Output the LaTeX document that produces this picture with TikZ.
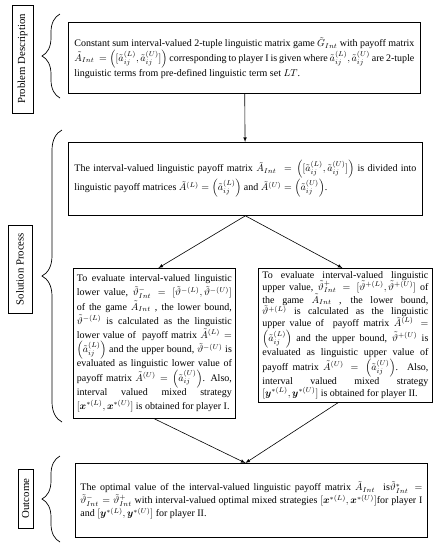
\documentclass[tikz,border=0pt]{standalone}
\usepackage{amsmath}
\usepackage{amssymb}
\usepackage{fontspec}
\setmainfont{Liberation Serif}
\usetikzlibrary{decorations.pathreplacing}
\hyphenpenalty=10000
\exhyphenpenalty=10000
\tolerance=10000
\hbadness=10000
\lineskiplimit=-100pt

\tikzset{
  stagebox/.style={draw, line width=0.8pt, anchor=north west, align=justify,
    inner ysep=3pt, font=\fontsize{10}{13}\selectfont},
  phasebox/.style={draw, line width=0.6pt, rotate=90, inner sep=1pt,
    font=\fontsize{10.8}{12}\selectfont},
  phasebrace/.style={decorate, decoration={brace, amplitude=18pt}, line width=0.7pt},
}

\begin{document}
\begin{tikzpicture}[x=1pt, y=-1pt, >=latex]
    \useasboundingbox (0,0) rectangle (434,550);
    % Phase labels on the left
    \node [phasebox, minimum width=108, minimum height=21] (lblprob) at (22.5,59) {Problem Description};
    \node [phasebox, minimum width=88, minimum height=24] (lblsol) at (20,269) {Solution Process};
    \node [phasebox, minimum width=59, minimum height=15] (lblout) at (25.5,498.5) {Outcome};
    % Braces
    \draw [phasebrace] (60,98) -- (60,14);
    \draw [phasebrace, decoration={amplitude=20pt}] (62,422) -- (62,130);
    \draw [phasebrace] (60,542) -- (60,456);
    % Problem description
    \node [stagebox, inner xsep=6pt, text width=340pt, minimum height=71] (prob) at (68,22)
      {Constant sum interval-valued 2-tuple linguistic matrix game $\tilde{G}_{Int}$ with payoff matrix\linebreak
       $\tilde{A}_{Int}\ = \left([\tilde{a}_{ij}^{(L)},\tilde{a}_{ij}^{(U)}]\right)$ corresponding to player I is given where
       $\tilde{a}_{ij}^{(L)},\tilde{a}_{ij}^{(U)}$ are 2-tuple\linebreak linguistic terms from pre-defined linguistic term set $LT$.\par\vspace*{-11pt}};
    % Splitting the payoff matrix
    \node [stagebox, inner xsep=6pt, text width=342pt, minimum height=73, font=\fontsize{10}{15}\selectfont] (div) at (68,142)
      {The interval-valued linguistic payoff matrix $\tilde{A}_{Int}\ = \left([\tilde{a}_{ij}^{(L)},\tilde{a}_{ij}^{(U)}]\right)$
       is divided into\linebreak linguistic payoff matrices $\tilde{A}^{(L)} = \left(\tilde{a}_{ij}^{(L)}\right)$ and
       $\tilde{A}^{(U)} = \left(\tilde{a}_{ij}^{(U)}\right)$.\par\vspace*{9pt}};
    % Lower value (player I)
    \node [stagebox, inner xsep=3.5pt, text width=155pt, minimum height=150, font=\fontsize{10}{14.2}\selectfont] (lower) at (73,268)
      {To evaluate interval-valued linguistic\linebreak lower value, $\tilde{\vartheta}_{Int}^{-} = [\tilde{\vartheta}^{-(L)},\tilde{\vartheta}^{-(U)}]$\linebreak
       of the game $\tilde{A}_{Int}$ , the lower bound,\linebreak $\tilde{\vartheta}^{-(L)}$ is calculated as the linguistic\linebreak
       lower value of \ payoff matrix $\tilde{A}^{(L)} =$\linebreak $\left(\tilde{a}_{ij}^{(L)}\right)$ and the upper bound, $\tilde{\vartheta}^{-(U)}$ is\linebreak
       evaluated as linguistic lower value of\linebreak payoff matrix $\tilde{A}^{(U)} = \left(\tilde{a}_{ij}^{(U)}\right)$. Also,\linebreak
       interval valued mixed strategy\linebreak $[\boldsymbol{x}^{*(L)},\boldsymbol{x}^{*(U)}]$ is obtained for player I.};
    % Upper value (player II)
    \node [stagebox, inner xsep=4pt, text width=166pt, minimum height=127, font=\fontsize{10}{11.7}\selectfont] (upper) at (258,268)
      {To evaluate interval-valued linguistic\linebreak upper value, $\tilde{\vartheta}_{Int}^{+} = [\tilde{\vartheta}^{+(L)},\tilde{\vartheta}^{+(U)}]$ of\linebreak
       the game $\tilde{A}_{Int}$ , the lower bound,\linebreak $\tilde{\vartheta}^{+(L)}$ is calculated as the linguistic\linebreak
       upper value of \ payoff matrix $\tilde{A}^{(L)} =$\linebreak $\left(\tilde{a}_{ij}^{(L)}\right)$ and the upper bound, $\tilde{\vartheta}^{+(U)}$ is\linebreak
       evaluated as linguistic upper value of\linebreak payoff matrix $\tilde{A}^{(U)} = \left(\tilde{a}_{ij}^{(U)}\right)$. Also,\linebreak
       interval valued mixed strategy\linebreak $[\boldsymbol{y}^{*(L)},\boldsymbol{y}^{*(U)}]$~is~obtained~for~player~II.};
    % Outcome
    \node [stagebox, inner xsep=5pt, text width=342pt, minimum height=74] (opt) at (75,463)
      {The optimal value of the interval-valued linguistic payoff matrix $\tilde{A}_{Int}$\ \ is$\tilde{\vartheta}_{Int}^{*} =$\linebreak
       $\tilde{\vartheta}_{Int}^{-} = \tilde{\vartheta}_{Int}^{+}$ with interval-valued optimal mixed strategies
       $[\boldsymbol{x}^{*(L)},\boldsymbol{x}^{*(U)}]$for player I\linebreak and $[\boldsymbol{y}^{*(L)},\boldsymbol{y}^{*(U)}]$ for player II.\par\vspace*{15pt}};
    % Connectors
    \draw [->, line width=0.6pt] (prob) -- (div);
    \draw [->, line width=0.6pt] (div.south) -- ([xshift=4pt]lower.north);
    \draw [->, line width=0.6pt] (div.south) -- ([xshift=-3pt]upper.north);
    \draw [->, line width=0.6pt] (lower.south) -- ([xshift=-6pt]opt.north);
    \draw [->, line width=0.6pt] ([xshift=-7pt]upper.south) -- ([xshift=-6pt]opt.north);
\end{tikzpicture}
\end{document}
